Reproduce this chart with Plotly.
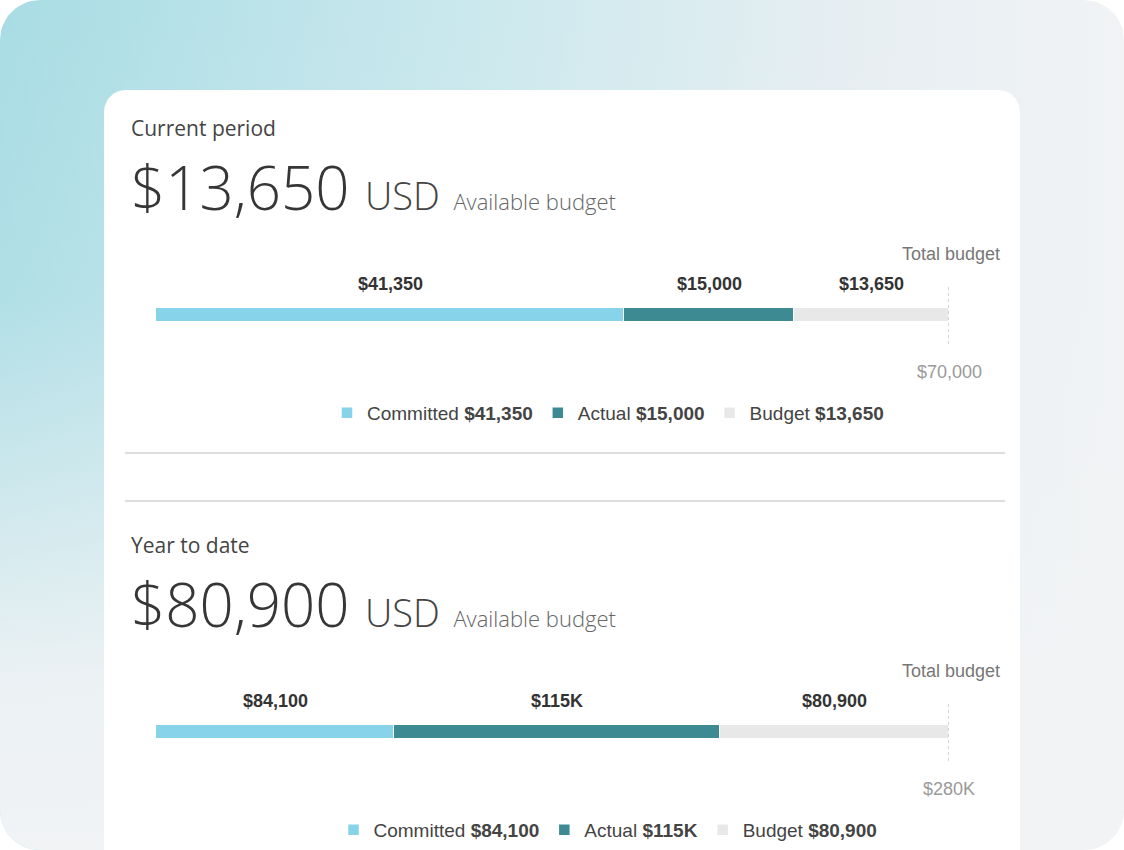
import math
import plotly.graph_objects as go

# ---------------- data ----------------
section_titles = ["Current period", "Year to date"]
committed = [41350, 84100]
actual = [15000, 115000]
budget = [13650, 80900]
totals = [70000, 280000]
series_names = ["Committed", "Actual", "Budget"]
series_colors = ["#86d3ea", "#3d8a92", "#e8e8e8"]
currency = "USD"
available_label = "Available budget"
total_label = "Total budget"


def fmt(v):
    if v >= 100000:
        return f"${v / 1000:.0f}K"
    return f"${v:,.0f}"


# ---------------- geometry ----------------
W, H = 1124, 850
SEC_DY = 417
BAR_X0, BAR_X1 = 156, 949
BAR_CY, BAR_T = 315, 14


def rrect(x0, y0, x1, y1, r_tl, r_tr, r_br, r_bl, n=14):
    pts = []

    def arc(cx, cy, r, a0, a1):
        for k in range(n + 1):
            a = math.radians(a0 + (a1 - a0) * k / n)
            pts.append((cx + r * math.cos(a), cy + r * math.sin(a)))

    arc(x0 + r_tl, y0 + r_tl, r_tl, 180, 270)
    arc(x1 - r_tr, y0 + r_tr, r_tr, 270, 360)
    arc(x1 - r_br, y1 - r_br, r_br, 0, 90)
    arc(x0 + r_bl, y1 - r_bl, r_bl, 90, 180)
    pts.append(pts[0])
    return [p[0] for p in pts], [p[1] for p in pts]


fig = go.Figure()

# background panel with gradient
bx, by = rrect(0, 0, W, H, 40, 40, 40, 40)
fig.add_trace(go.Scatter(
    x=bx, y=by, mode="lines", line=dict(width=0), fill="toself",
    fillgradient=dict(type="horizontal",
                      colorscale=[[0, "#a8dce4"], [0.45, "#cde9ee"], [0.75, "#e6eef2"], [1, "#f1f3f5"]]),
    hoverinfo="skip", showlegend=False, xaxis="x", yaxis="y"))
fig.add_trace(go.Scatter(
    x=bx, y=by, mode="lines", line=dict(width=0), fill="toself",
    fillgradient=dict(type="vertical",
                      colorscale=[[0, "rgba(241,243,245,1)"], [0.2, "rgba(241,243,245,0.92)"],
                                  [0.4, "rgba(241,243,245,0.55)"], [0.65, "rgba(241,243,245,0.12)"],
                                  [1, "rgba(241,243,245,0)"]]),
    hoverinfo="skip", showlegend=False, xaxis="x", yaxis="y"))
# white card
cx, cy = rrect(104, 90, 1020, 930, 22, 22, 0, 0)
fig.add_trace(go.Scatter(
    x=cx, y=cy, mode="lines", line=dict(width=0), fill="toself", fillcolor="white",
    hoverinfo="skip", showlegend=False, xaxis="x", yaxis="y"))

annotations = []
shapes = []
layout_axes = {}

for i in range(2):
    dy = i * SEC_DY
    xa, ya = f"x{i + 2}", f"y{i + 2}"
    vals = [committed[i], actual[i], budget[i]]
    legend_id = "legend" if i == 0 else "legend2"

    start = 0
    for name, color, v in zip(series_names, series_colors, vals):
        fig.add_trace(go.Bar(
            x=[v], y=[0], orientation="h", name=f"{name} <b>{fmt(v)}</b>",
            marker=dict(color=color, line=dict(color="white", width=1.5)),
            xaxis=xa, yaxis=ya, legend=legend_id, hoverinfo="skip"))
        annotations.append(dict(
            x=start + v / 2, xref=xa, y=284 + dy, yref="y", text=f"<b>{fmt(v)}</b>",
            showarrow=False, xanchor="center", yanchor="middle",
            font=dict(family="Arial, Liberation Sans", size=18, color="#333333")))
        start += v

    top = BAR_CY + dy - BAR_T / 2
    bot = BAR_CY + dy + BAR_T / 2
    layout_axes[f"xaxis{i + 2}"] = dict(domain=[BAR_X0 / W, BAR_X1 / W], range=[0, totals[i]],
                                        anchor=ya, visible=False, fixedrange=True)
    layout_axes[f"yaxis{i + 2}"] = dict(domain=[1 - bot / H, 1 - top / H], range=[-0.5, 0.5],
                                        anchor=xa, visible=False, fixedrange=True)

    # total budget marker
    shapes.append(dict(type="line", xref=xa, x0=totals[i], x1=totals[i], yref="y",
                       y0=287 + dy, y1=345 + dy, line=dict(color="#aaaaaa", width=1, dash="dot")))
    annotations.append(dict(
        x=1002, xref="x", y=254 + dy, yref="y", text=total_label, showarrow=False,
        xanchor="right", yanchor="middle",
        font=dict(family="Arial, Liberation Sans", size=18, color="#777777")))
    annotations.append(dict(
        x=totals[i], xref=xa, y=372 + dy, yref="y", text=fmt(totals[i]), showarrow=False,
        xanchor="center", yanchor="middle",
        font=dict(family="Arial, Liberation Sans", size=18, color="#9a9a9a")))

    # headers
    annotations.append(dict(
        x=129, xref="x", y=128 + dy, yref="y", text=section_titles[i], showarrow=False,
        xanchor="left", yanchor="middle",
        font=dict(family="Open Sans", size=21, color="#444444")))
    big = (f"{fmt(budget[i])}"
           f"<span style=\"font-size:60px\">&nbsp;</span>"
           f"<span style=\"font-size:38px;color:#444444\">{currency}</span>"
           f"<span style=\"font-size:52px\">&nbsp;</span>"
           f"<span style=\"font-size:22px;color:#666666\">{available_label}</span>")
    annotations.append(dict(
        x=129, xref="x", y=187 + dy, yref="y", text=big, showarrow=False,
        xanchor="left", yanchor="middle",
        font=dict(family="Open Sans", size=60, color="#363636", weight=300)))

# dividers
for yy in (453, 501):
    shapes.append(dict(type="line", xref="x", yref="y", x0=125, x1=1005, y0=yy, y1=yy,
                       line=dict(color="#d2d2d2", width=1.5)))

legend_common = dict(orientation="h", xanchor="center", yanchor="middle",
                     bgcolor="rgba(0,0,0,0)", traceorder="normal",
                     font=dict(family="Arial, Liberation Sans", size=19, color="#444444"))

fig.update_layout(
    width=W, height=H, margin=dict(l=0, r=0, t=0, b=0),
    paper_bgcolor="white", plot_bgcolor="rgba(0,0,0,0)",
    barmode="stack", bargap=0,
    xaxis=dict(domain=[0, 1], range=[0, W], visible=False, fixedrange=True),
    yaxis=dict(domain=[0, 1], range=[H, 0], visible=False, fixedrange=True),
    legend=dict(x=608 / W, y=1 - 413 / H, **legend_common),
    legend2=dict(x=608 / W, y=1 - 830 / H, **legend_common),
    annotations=annotations, shapes=shapes,
    **layout_axes,
)

fig.write_html("out.html")
